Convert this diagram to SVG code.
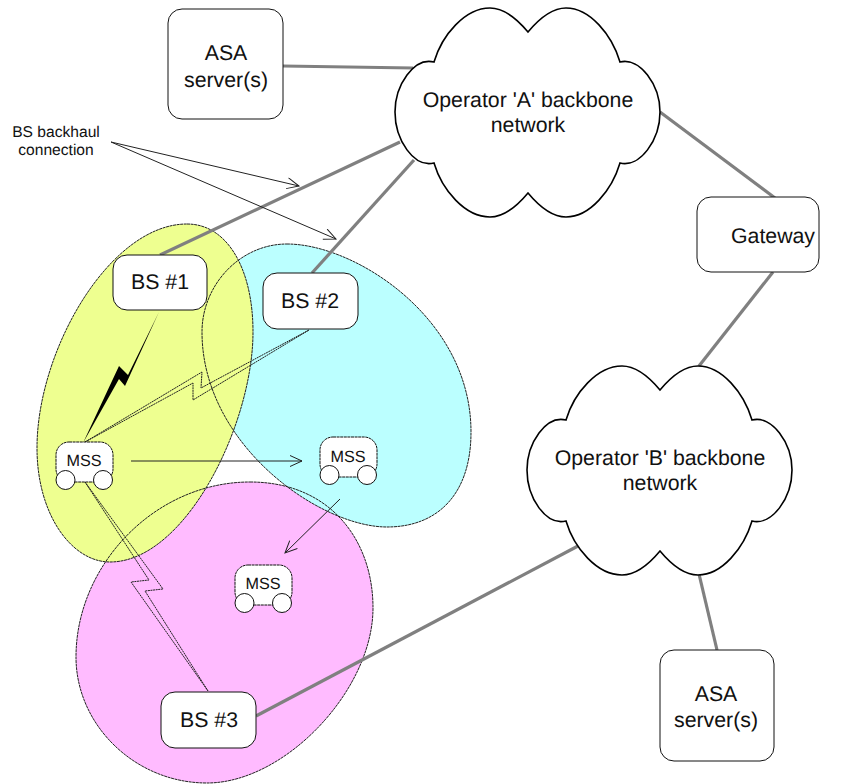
<svg xmlns="http://www.w3.org/2000/svg" width="844" height="784" viewBox="0 0 844 784">
<style>
text{font-family:"Liberation Sans",Arial,sans-serif;fill:#111;text-anchor:middle;text-rendering:geometricPrecision}
.big{font-size:21.3px}
.mss{font-size:16.2px}
.small{font-size:15.6px}
.box{fill:#fff;stroke:#111;stroke-width:1}
.cloud{fill:#fff;stroke:#000;stroke-width:1.6}
.link{stroke:#808080;stroke-width:3.2;fill:none}
.thin{stroke:#222;stroke-width:1;fill:none}
.cell{fill:none;stroke:#222;stroke-width:1;stroke-dasharray:3 .6}
.bolt{fill:none;stroke:#222;stroke-width:1;stroke-dasharray:2 .6}
</style>
<defs>
<marker id="open" markerWidth="16" markerHeight="14" refX="13" refY="6" orient="auto" markerUnits="userSpaceOnUse"><path d="M1 0.5L13 6L1 11.5" fill="none" stroke="#222" stroke-width="1"/></marker>
<path id="cl" d="M434 62C442 35 465 8 490 8C505 8 518 20 528 32C538 20 552 8 566 8C590 8 612 35 620 62C640 57 660 85 660 112C660 140 640 168 620 163C612 190 590 217 566 217C552 217 538 205 528 193C518 205 505 217 490 217C465 217 442 190 434 163C414 168 395 140 395 112C395 85 414 57 434 62Z"/>
<path id="pk" d="M250 482C330 482 373 540 373 608C373 690 285 783 207 783C135 783 76 725 76 657C76 565 155 482 250 482Z"/>
<path id="cy" d="M287 244C355 244 471 318 471 432C471 495 437 527 387 527C320 527 202 445 202 332C202 285 240 244 287 244Z"/>
<path id="ye" d="M187 224C228 224 253 270 253 332C253 425 185 562 110 562C72 562 37 515 37 448C37 350 110 224 187 224Z"/>
<g id="m"><rect x="0" y="0" width="57" height="40" rx="13" class="box" stroke-dasharray="3 .6"/><circle cx="9.5" cy="38" r="9.5" class="box"/><circle cx="47" cy="38" r="9.5" class="box"/></g>
</defs>
<g id="cells-fill">
<use href="#pk" fill="#ffbbff"/>
<use href="#cy" fill="#bbffff"/>
<use href="#ye" fill="#eeff90"/>
</g>
<g id="cells-outline">
<use href="#pk" class="cell"/>
<use href="#cy" class="cell"/>
<use href="#ye" class="cell"/>
</g>
<g id="connectors">
<path class="link" d="M283 66L413 68"/>
<path class="link" d="M160 255L400 142"/>
<path class="link" d="M312 273L414 160"/>
<path class="link" d="M660 112L775 198"/>
<path class="link" d="M773 272L699 366"/>
<path class="link" d="M256 716L578 546"/>
<path class="link" d="M699 574L717 650"/>
<path class="thin" d="M111 142L299 186" marker-end="url(#open)"/>
<path class="thin" d="M111 142L336 239" marker-end="url(#open)"/>
<path class="thin" d="M131 461L302 461" marker-end="url(#open)" stroke-width="1.5"/>
<path class="thin" d="M340 499L285 553" marker-end="url(#open)"/>
<path d="M159 312L125 386L119 379L83 443L119 366L128 375Z" fill="#000"/>
<path class="bolt" d="M85 442L202 372L201 388L309 330L193 400L193 383Z"/>
<path class="bolt" d="M85 482L163 589L145 591L208 691L131 582L149 580Z"/>
</g>
<g id="asa-a"><rect x="168" y="9" width="115" height="110" rx="14" class="box"/><text class="big" x="226" y="60">ASA</text><text class="big" x="226" y="87">server(s)</text></g>
<g id="asa-b"><rect x="660" y="650" width="114" height="111" rx="14" class="box"/><text class="big" x="716" y="701">ASA</text><text class="big" x="716" y="727">server(s)</text></g>
<g id="gateway"><rect x="697" y="197" width="122" height="75" rx="14" class="box"/><text class="big" x="773" y="243">Gateway</text></g>
<g id="operator-a"><use href="#cl" class="cloud"/><text class="big" x="528" y="107">Operator 'A' backbone</text><text class="big" x="528" y="132">network</text></g>
<g id="operator-b"><use href="#cl" class="cloud" x="132" y="358"/><text class="big" x="660" y="465">Operator 'B' backbone</text><text class="big" x="660" y="490">network</text></g>
<g id="bs1"><rect x="113" y="255" width="94" height="55" rx="14" class="box"/><text class="big" x="160" y="289">BS #1</text></g>
<g id="bs2"><rect x="263" y="273" width="95" height="56" rx="14" class="box"/><text class="big" x="310" y="308">BS #2</text></g>
<g id="bs3"><rect x="161" y="692" width="95" height="56" rx="14" class="box"/><text class="big" x="209" y="727">BS #3</text></g>
<g id="mss1"><use href="#m" x="56" y="442"/><text class="mss" x="84" y="466">MSS</text></g>
<g id="mss2"><use href="#m" x="320" y="437"/><text class="mss" x="348" y="462">MSS</text></g>
<g id="mss3"><use href="#m" x="235" y="565"/><text class="mss" x="263" y="589">MSS</text></g>
<g id="label"><text class="small" x="56" y="137">BS backhaul</text><text class="small" x="56" y="155">connection</text></g>
</svg>
